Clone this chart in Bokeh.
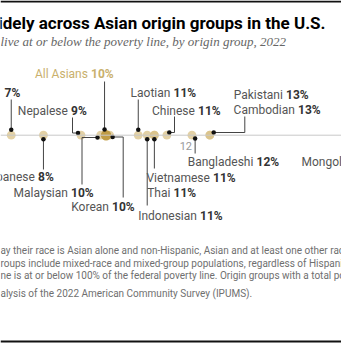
from bokeh.plotting import figure
from bokeh.models import Range1d, Span, ColumnDataSource
from bokeh.core.properties import value
from bokeh.embed import file_html
from bokeh.resources import INLINE

# ---------------- data ----------------
groups = ["", "Japanese", "Nepalese", "Malaysian", "All Asians", "Korean", "Laotian",
          "Indonesian", "Vietnamese", "Thai", "Chinese", "Bangladeshi", "Pakistani", "Cambodian"]
rates = [7.0, 7.9, 8.95, 9.5, 9.65, 9.75, 10.55, 10.8, 11.0, 11.0, 11.35, 12.05, 12.55, 12.55]
shown = ["7%", "8%", "9%", "10%", "10%", "10%", "11%", "11%", "11%", "11%", "11%", "12%", "13%", "13%"]
partial_label = "Mongolian"
tick_text = "12"

title = "widely across Asian origin groups in the U.S."
subtitle = "live at or below the poverty line, by origin group, 2022"
notes = [
    "ay their race is Asian alone and non-Hispanic, Asian and at least one other race",
    "roups include mixed-race and mixed-group populations, regardless of Hispanic origin",
    "ne is at or below 100% of the federal poverty line. Origin groups with a total population",
    "alysis of the 2022 American Community Survey (IPUMS).",
]

# ---------------- layout (pixels) ----------------
W, H = 341, 344
X0, X1 = 6.70, 16.23
K = W / (X1 - X0)


def xd(px):
    return X0 + px / K


AXIS_Y = 134.7
# label split x (between name and pct) and y centre
label_pos = {
    0: (2.5, 92), 1: (36, 176), 2: (69, 110), 3: (69, 192), 4: (89, 73), 5: (110, 206),
    6: (171.5, 92), 7: (198, 215), 8: (211, 177), 9: (171.5, 192), 10: (196, 110),
    11: (254.5, 161), 12: (284, 94), 13: (296, 109),
}
# leader: attach offset from dot (dx, dy) then path points in px
leaders = {
    0: ((0, -5.4), [(None, 99)]),
    1: ((0, 4.0), [(None, 169)]),
    2: ((-3.0, -2.2), [(72, None), (72, 117)]),
    3: ((-3.2, 2.3), [(81.5, None), (81.5, 184)]),
    4: ((-1.5, -5.7), [(None, 81)]),
    5: ((3.0, 1.8), [(122.7, None), (122.7, 197)]),
    6: ((0, -5.4), [(None, 99)]),
    7: ((0, 4.0), [(None, 205)]),
    8: ((0, 4.0), [(None, 168)]),
    10: ((2.4, -2.7), [(174, None), (174, 116)]),
    11: ((3.2, 3.3), [(None, 153)]),
    12: ((3.9, -2.7), [(244.3, None), (244.3, 116)]),
}

FONT = "Roboto"

p = figure(width=W, height=H, output_backend="svg", toolbar_location=None,
           x_range=Range1d(X0, X1), y_range=Range1d(H, 0), min_border=0,
           outline_line_color=None, background_fill_color="white",
           border_fill_color="white")
p.axis.visible = False
p.grid.visible = False

# frame rules
p.line(x=[X0, X1], y=[1, 1], line_color="#111111", line_width=2)
p.line(x=[X0, X1], y=[341, 341], line_color="#111111", line_width=2)

# axis line
p.add_layout(Span(location=AXIS_Y, dimension="width", line_color="#c8c8c8", line_width=1))

# dots
idx_all = groups.index("All Asians")
others = [i for i in range(len(groups)) if i != idx_all]
p.scatter(x=[rates[i] for i in others], y=[AXIS_Y] * len(others), size=8.8,
          fill_color="#d8bf82", fill_alpha=0.72, line_color=None)
p.scatter(x=[rates[idx_all]], y=[AXIS_Y], size=10.5, fill_color="#c09c45",
          line_color=None)

# leaders
xs, ys, bx, by = [], [], [], []
for i, ((dx, dy), path) in leaders.items():
    sx = rates[i] + dx / K
    sy = AXIS_Y + dy
    lx, ly = [sx], [sy]
    cx, cy = sx, sy
    for (px, py) in path:
        cx = xd(px) if px is not None else cx
        cy = py if py is not None else cy
        lx.append(cx)
        ly.append(cy)
    xs.append(lx)
    ys.append(ly)
    bx.append(sx)
    by.append(sy)
p.multi_line(xs=xs, ys=ys, line_color="#444444", line_width=1)
p.scatter(x=bx, y=by, size=4.5, fill_color="#111111", line_color=None)

# labels
nx, ny, nt, nc, qx, qy, qt, qc = [], [], [], [], [], [], [], []
for i, (sp, y) in label_pos.items():
    col_n = "#c9b06c" if i == idx_all else "#555555"
    col_p = "#c9b06c" if i == idx_all else "#333333"
    if groups[i]:
        nx.append(xd(sp - 1.6)); ny.append(y); nt.append(groups[i]); nc.append(col_n)
    qx.append(xd(sp + 1.6)); qy.append(y); qt.append(shown[i]); qc.append(col_p)
p.text(x=nx, y=ny, text=nt, text_color=nc, text_font=value(FONT), text_font_size="12px",
       text_align="right", text_baseline="middle")
p.text(x=qx, y=qy, text=qt, text_color=qc, text_font=value(FONT), text_font_size="12px",
       text_font_style="bold", text_align="left", text_baseline="middle")
p.text(x=[xd(301)], y=[161], text=[partial_label], text_color="#555555",
       text_font=value(FONT), text_font_size="12px", text_align="left", text_baseline="middle")
p.text(x=[xd(191.5)], y=[145], text=[tick_text], text_color="#999999",
       text_font=value(FONT), text_font_size="11px", text_align="right", text_baseline="middle")

# title, subtitle, notes
p.text(x=[xd(325)], y=[22], text=[title], text_color="#000000", text_font=value(FONT),
       text_font_size="17px", text_font_style="bold", text_align="right", text_baseline="middle")
p.text(x=[xd(0)], y=[41], text=[subtitle], text_color="#666666",
       text_font=value("Liberation Serif"), text_font_size="13px", text_font_style="italic",
       text_align="left", text_baseline="middle")
p.text(x=[xd(0)] * 4, y=[250, 263, 275, 293], text=notes, text_color="#6f6f6f",
       text_font=value(FONT), text_font_size="10px", text_align="left", text_baseline="middle")

open("out.html", "w").write(file_html(p, INLINE))
